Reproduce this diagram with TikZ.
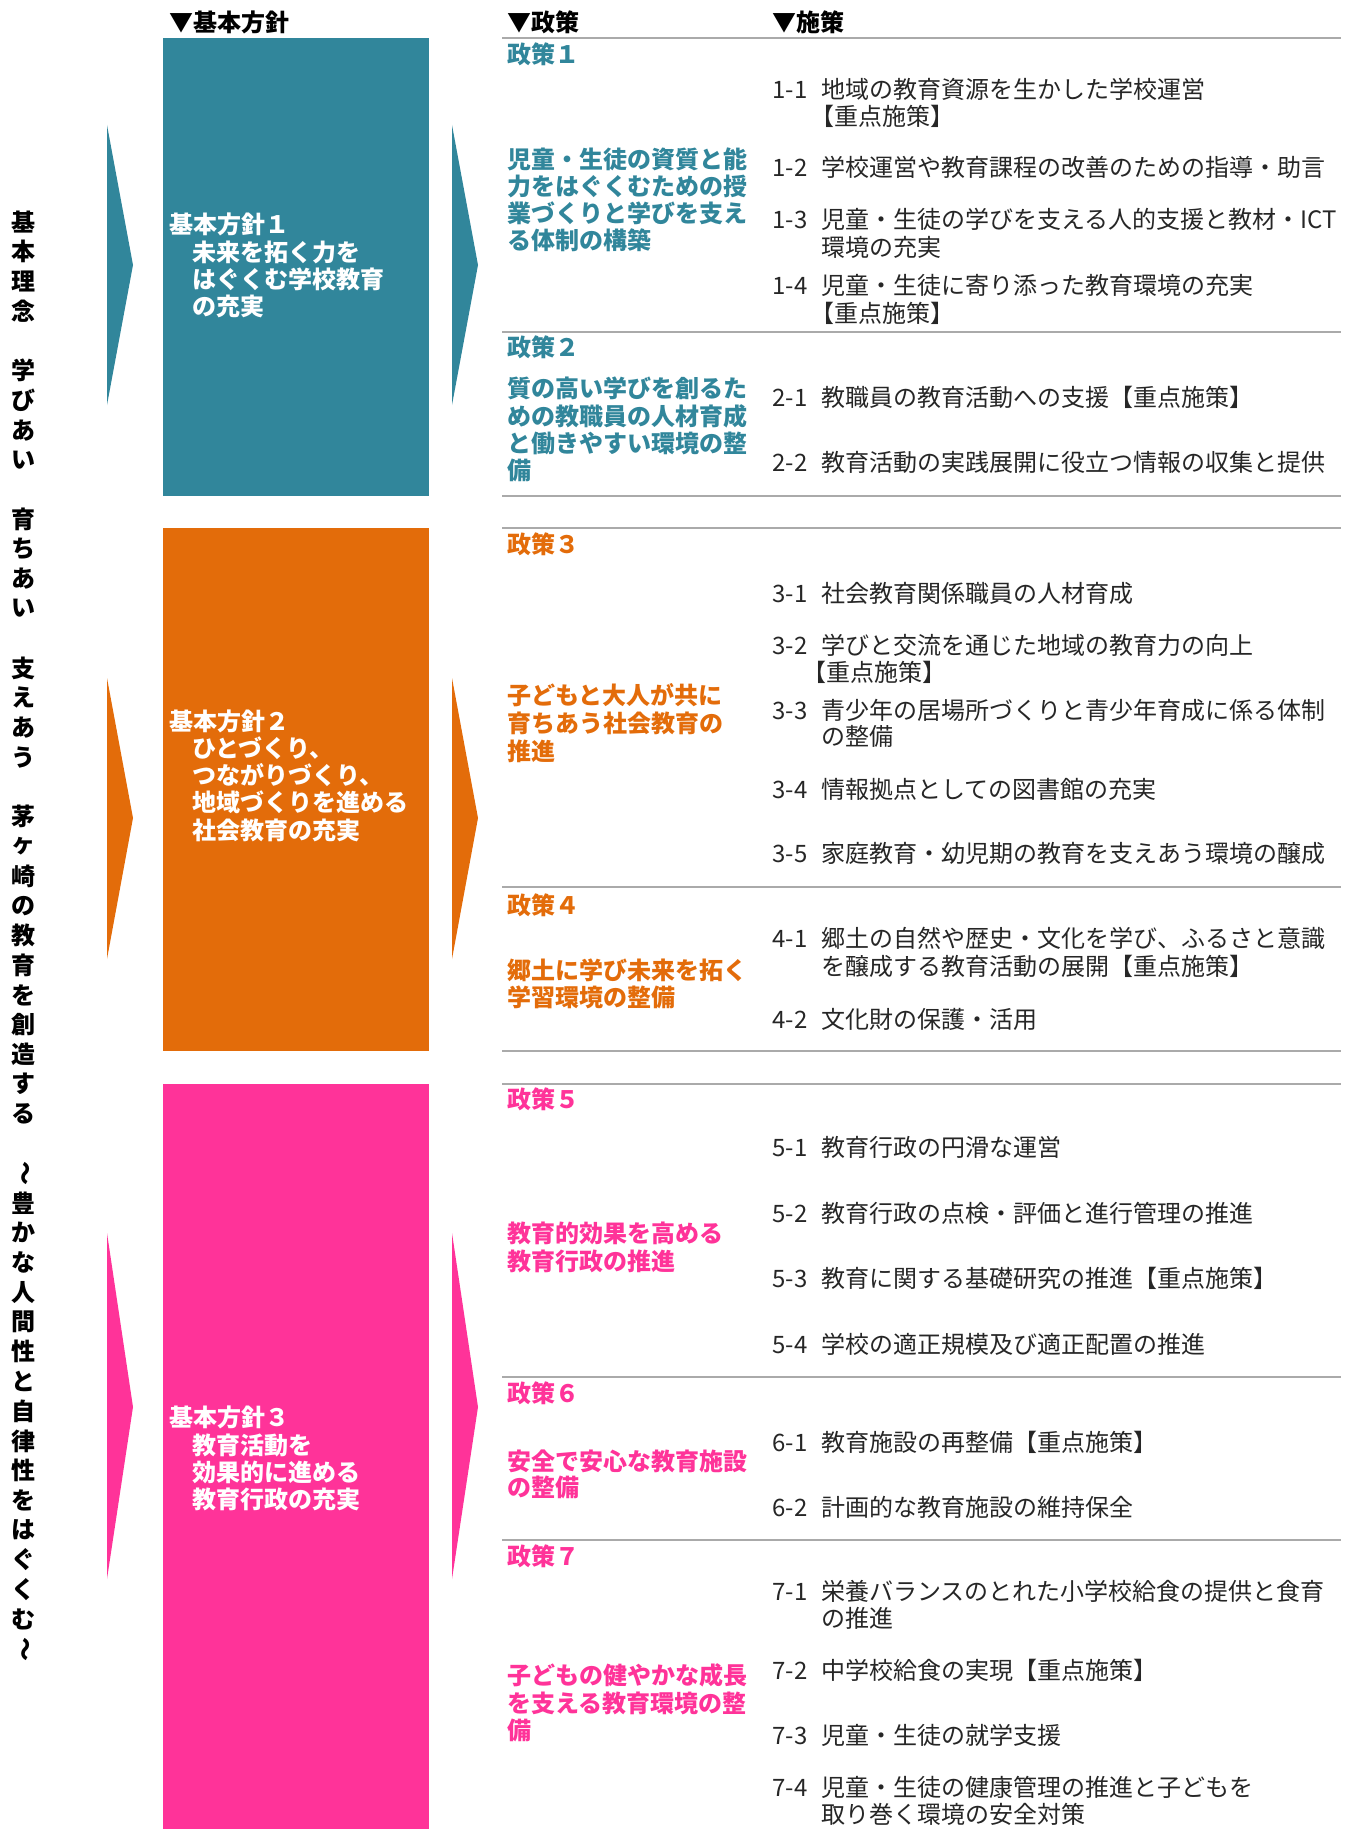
\documentclass[tikz,border=0pt]{standalone}
\usepackage{fontspec}
\usepackage{graphicx}
\setmainfont{Noto Sans CJK JP}

\definecolor{basic1}{HTML}{31869B}
\definecolor{basic2}{HTML}{E36C0A}
\definecolor{basic3}{HTML}{FF3399}
\definecolor{rulegray}{HTML}{AAAAAA}

\newcommand\num[1]{\makebox[24.5pt][l]{#1}}

\tikzset{
  txtline/.style={anchor=base west, inner sep=0pt, yshift=-4.5pt, font=\fontsize{12}{14}\selectfont},
  measure/.style={txtline, text=black!85},
  policy/.style={txtline, font=\fontsize{12}{14}\selectfont\bfseries},
  head/.style={policy, text=black},
  vchar/.style={inner sep=0pt, font=\fontsize{12}{14}\selectfont\bfseries},
  rule/.style={draw=rulegray, line width=1pt},
}

\begin{document}
\begin{tikzpicture}[x=0.5pt,y=-0.5pt]
    \useasboundingbox (0,0) rectangle (1352,1829);

    % Column heads
    \node[head] (hbasic)   at (169,23) {▼基本方針};
    \node[head] (hpolicy)  at (507,23) {▼政策};
    \node[head] (hmeasure) at (772,23) {▼施策};

    % Rules between the policies
    \foreach \y in {38,332,496,528,887,1051,1084,1377,1540}
        \draw[rule] (502,\y) -- (1341,\y);

    % The three boxes
    \fill[basic1] (163,38) rectangle (429,496);
    \fill[basic2] (163,528) rectangle (429,1051);
    \fill[basic3] (163,1084) rectangle (429,1829);

    % The chevrons
    \fill[basic1] (107,125) -- (133,265) -- (107,405) -- cycle;
    \fill[basic1] (452,125) -- (478,265) -- (452,405) -- cycle;
    \fill[basic2] (107,678) -- (133,818) -- (107,959) -- cycle;
    \fill[basic2] (452,678) -- (478,818) -- (452,959) -- cycle;
    \fill[basic3] (107,1233) -- (133,1407) -- (107,1579) -- cycle;
    \fill[basic3] (452,1233) -- (478,1407) -- (452,1579) -- cycle;

    % Vertical text on the left
    \foreach \c [count=\i] in {基,本,理,念,　,学,び,あ,い,　,育,ち,あ,い,　,支,え,あ,う,　,
        茅,ヶ,崎,の,教,育,を,創,造,す,る,　,{\rotatebox[origin=c]{-90}{～}},豊,か,な,人,間,性,と,
        自,律,性,を,は,ぐ,く,む,{\rotatebox[origin=c]{-90}{～}}}
        \node[vchar] (v\i) at (23,{222+29.73*(\i-1)}) {\c};

    % Text of the boxes
    \node[policy,text=white] (b1a) at (169,225) {基本方針１};
    \node[policy,text=white] (b1b) at (192,253) {未来を拓く力を};
    \node[policy,text=white] (b1c) at (192,280) {はぐくむ学校教育};
    \node[policy,text=white] (b1d) at (192,307) {の充実};

    \node[policy,text=white] (b2a) at (169,721) {基本方針２};
    \node[policy,text=white] (b2b) at (192,748) {ひとづくり、};
    \node[policy,text=white] (b2c) at (192,775) {つながりづくり、};
    \node[policy,text=white] (b2d) at (192,802) {地域づくりを進める};
    \node[policy,text=white] (b2e) at (192,830) {社会教育の充実};

    \node[policy,text=white] (b3a) at (169,1417) {基本方針３};
    \node[policy,text=white] (b3b) at (192,1445) {教育活動を};
    \node[policy,text=white] (b3c) at (192,1472) {効果的に進める};
    \node[policy,text=white] (b3d) at (192,1499) {教育行政の充実};

    % Policies
    \node[policy,text=basic1] (p1)  at (507,55)  {政策１};
    \node[policy,text=basic1] (p1a) at (507,160) {児童・生徒の資質と能};
    \node[policy,text=basic1] (p1b) at (507,187) {力をはぐくむための授};
    \node[policy,text=basic1] (p1c) at (507,214) {業づくりと学びを支え};
    \node[policy,text=basic1] (p1d) at (507,241) {る体制の構築};

    \node[policy,text=basic1] (p2)  at (507,348) {政策２};
    \node[policy,text=basic1] (p2a) at (507,388) {質の高い学びを創るた};
    \node[policy,text=basic1] (p2b) at (507,416) {めの教職員の人材育成};
    \node[policy,text=basic1] (p2c) at (507,443) {と働きやすい環境の整};
    \node[policy,text=basic1] (p2d) at (507,470) {備};

    \node[policy,text=basic2] (p3)  at (507,544) {政策３};
    \node[policy,text=basic2] (p3a) at (507,695) {子どもと大人が共に};
    \node[policy,text=basic2] (p3b) at (507,723) {育ちあう社会教育の};
    \node[policy,text=basic2] (p3c) at (507,751) {推進};

    \node[policy,text=basic2] (p4)  at (507,905) {政策４};
    \node[policy,text=basic2] (p4a) at (507,970) {郷土に学び未来を拓く};
    \node[policy,text=basic2] (p4b) at (507,997) {学習環境の整備};

    \node[policy,text=basic3] (p5)  at (507,1099) {政策５};
    \node[policy,text=basic3] (p5a) at (507,1233) {教育的効果を高める};
    \node[policy,text=basic3] (p5b) at (507,1261) {教育行政の推進};

    \node[policy,text=basic3] (p6)  at (507,1393) {政策６};
    \node[policy,text=basic3] (p6a) at (507,1461) {安全で安心な教育施設};
    \node[policy,text=basic3] (p6b) at (507,1487) {の整備};

    \node[policy,text=basic3] (p7)  at (507,1556) {政策７};
    \node[policy,text=basic3] (p7a) at (507,1675) {子どもの健やかな成長};
    \node[policy,text=basic3] (p7b) at (507,1703) {を支える教育環境の整};
    \node[policy,text=basic3] (p7c) at (507,1730) {備};

    % Measures
    \node[measure] (m11)  at (772,90)  {\num{1-1}地域の教育資源を生かした学校運営};
    \node[measure] (m11b) at (810,117) {【重点施策】};
    \node[measure] (m12)  at (772,168) {\num{1-2}学校運営や教育課程の改善のための指導・助言};
    \node[measure] (m13)  at (772,220) {\num{1-3}児童・生徒の学びを支える人的支援と教材・ICT};
    \node[measure] (m13b) at (821,248) {環境の充実};
    \node[measure] (m14)  at (772,286) {\num{1-4}児童・生徒に寄り添った教育環境の充実};
    \node[measure] (m14b) at (810,313) {【重点施策】};
    \node[measure] (m21)  at (772,397) {\num{2-1}教職員の教育活動への支援【重点施策】};
    \node[measure] (m22)  at (772,462) {\num{2-2}教育活動の実践展開に役立つ情報の収集と提供};

    \node[measure] (m31)  at (772,593) {\num{3-1}社会教育関係職員の人材育成};
    \node[measure] (m32)  at (772,645) {\num{3-2}学びと交流を通じた地域の教育力の向上};
    \node[measure] (m32b) at (802,672) {【重点施策】};
    \node[measure] (m33)  at (772,710) {\num{3-3}青少年の居場所づくりと青少年育成に係る体制};
    \node[measure] (m33b) at (821,736) {の整備};
    \node[measure] (m34)  at (772,789) {\num{3-4}情報拠点としての図書館の充実};
    \node[measure] (m35)  at (772,853) {\num{3-5}家庭教育・幼児期の教育を支えあう環境の醸成};
    \node[measure] (m41)  at (772,938) {\num{4-1}郷土の自然や歴史・文化を学び、ふるさと意識};
    \node[measure] (m41b) at (821,966) {を醸成する教育活動の展開【重点施策】};
    \node[measure] (m42)  at (772,1019) {\num{4-2}文化財の保護・活用};

    \node[measure] (m51)  at (772,1147) {\num{5-1}教育行政の円滑な運営};
    \node[measure] (m52)  at (772,1213) {\num{5-2}教育行政の点検・評価と進行管理の推進};
    \node[measure] (m53)  at (772,1278) {\num{5-3}教育に関する基礎研究の推進【重点施策】};
    \node[measure] (m54)  at (772,1344) {\num{5-4}学校の適正規模及び適正配置の推進};
    \node[measure] (m61)  at (772,1442) {\num{6-1}教育施設の再整備【重点施策】};
    \node[measure] (m62)  at (772,1507) {\num{6-2}計画的な教育施設の維持保全};
    \node[measure] (m71)  at (772,1591) {\num{7-1}栄養バランスのとれた小学校給食の提供と食育};
    \node[measure] (m71b) at (821,1618) {の推進};
    \node[measure] (m72)  at (772,1670) {\num{7-2}中学校給食の実現【重点施策】};
    \node[measure] (m73)  at (772,1735) {\num{7-3}児童・生徒の就学支援};
    \node[measure] (m74)  at (772,1787) {\num{7-4}児童・生徒の健康管理の推進と子どもを};
    \node[measure] (m74b) at (821,1814) {取り巻く環境の安全対策};

\end{tikzpicture}
\end{document}
